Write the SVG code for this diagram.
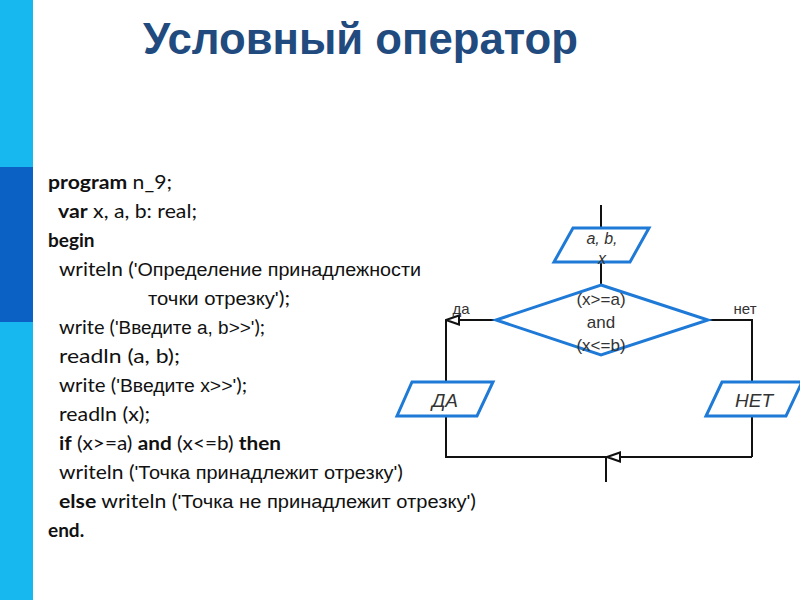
<svg xmlns="http://www.w3.org/2000/svg" width="800" height="600" viewBox="0 0 800 600">
<defs>
<style>
.code{font-family:Lato,"Liberation Sans",sans-serif;font-size:19px;fill:#111}
.code .k{font-weight:bold}
.code .s{font-family:"Liberation Sans",sans-serif;font-size:18px}
.blk{fill:#fff;stroke:#1e7ad6;stroke-width:3}
.lbl{font-family:"Liberation Sans",Arial,sans-serif;fill:#333;text-anchor:middle}
.ln{fill:none;stroke:#111;stroke-width:2}
</style>
<marker id="arr" viewBox="0 0 16 12" refX="15" refY="6" markerWidth="16" markerHeight="12" markerUnits="userSpaceOnUse" orient="auto">
<path d="M15 6 L2 1.5 L2 10.5 Z" fill="#fff" stroke="#111" stroke-width="2"/>
</marker>
</defs>
<rect width="800" height="600" fill="#fff"/>
<rect x="0" y="0" width="33" height="600" fill="#17b8ef"/>
<rect x="0" y="167" width="33" height="155" fill="#0b62c4"/>
<text x="143" y="54" textLength="435" lengthAdjust="spacingAndGlyphs" style="font-family:'Liberation Sans',Arial,sans-serif;font-weight:bold;font-size:44px;fill:#214a7e">Условный оператор</text>
<g id="code" class="code">
<text x="48" y="189" textLength="124" lengthAdjust="spacingAndGlyphs"><tspan class="k">program</tspan> n_9;</text>
<text x="58" y="218" textLength="139" lengthAdjust="spacingAndGlyphs"><tspan class="k">var</tspan> x, a, b: real;</text>
<text x="48" y="247" class="k">begin</text>
<text x="59" y="276" textLength="362" lengthAdjust="spacingAndGlyphs">writeln (<tspan class="s">'Определение принадлежности</tspan></text>
<text x="148" y="305" textLength="142" lengthAdjust="spacingAndGlyphs"><tspan class="s">точки отрезку'</tspan>);</text>
<text x="59" y="334" textLength="206" lengthAdjust="spacingAndGlyphs">write (<tspan class="s">'Введите a, b&gt;&gt;'</tspan>);</text>
<text x="59" y="363" textLength="121" lengthAdjust="spacingAndGlyphs">readln (a, b);</text>
<text x="59" y="392" textLength="188" lengthAdjust="spacingAndGlyphs">write (<tspan class="s">'Введите x&gt;&gt;'</tspan>);</text>
<text x="59" y="421" textLength="91" lengthAdjust="spacingAndGlyphs">readln (x);</text>
<text x="59" y="450" textLength="222" lengthAdjust="spacingAndGlyphs"><tspan class="k">if</tspan> (x&gt;=a) <tspan class="k">and</tspan> (x&lt;=b) <tspan class="k">then</tspan></text>
<text x="59" y="479" textLength="344" lengthAdjust="spacingAndGlyphs">writeln (<tspan class="s">'Точка принадлежит отрезку'</tspan>)</text>
<text x="59" y="508" textLength="417" lengthAdjust="spacingAndGlyphs"><tspan class="k">else</tspan>  writeln (<tspan class="s">'Точка не принадлежит отрезку'</tspan>)</text>
<text x="48" y="537" class="k">end.</text>
</g>
<g id="connectors">
<path class="ln" d="M601 205 V286"/>
<path class="ln" d="M496 320 H446" marker-end="url(#arr)"/>
<path class="ln" d="M446 320 V457 H752"/>
<path class="ln" d="M708 320 H752 V457"/>
<path class="ln" d="M752 457 H607" marker-end="url(#arr)"/>
<path class="ln" d="M606 457 V482"/>
</g>
<g id="input">
<polygon class="blk" points="573,228 649,228 630,262 554,262"/>
<text class="lbl" x="602" y="244" font-size="16" font-style="italic">a, b,</text>
<text class="lbl" x="602" y="264" font-size="16" font-style="italic">x</text>
</g>
<g id="cond">
<polygon class="blk" points="601,285 708,320 601,355 496,320"/>
<text class="lbl" x="601" y="305" font-size="17">(x&gt;=a)</text>
<text class="lbl" x="601" y="328" font-size="17">and</text>
<text class="lbl" x="601" y="351" font-size="17">(x&lt;=b)</text>
</g>
<g id="yes">
<polygon class="blk" points="412,382 493,382 477,416 397,416"/>
<text class="lbl" x="445" y="407" font-size="19" font-style="italic">ДА</text>
</g>
<g id="no">
<polygon class="blk" points="722,382 802,382 786,416 706,416"/>
<text class="lbl" x="754" y="407" font-size="19" font-style="italic">НЕТ</text>
</g>
<text class="lbl" x="461" y="314" font-size="15">да</text>
<text class="lbl" x="745" y="314" font-size="15">нет</text>
</svg>
